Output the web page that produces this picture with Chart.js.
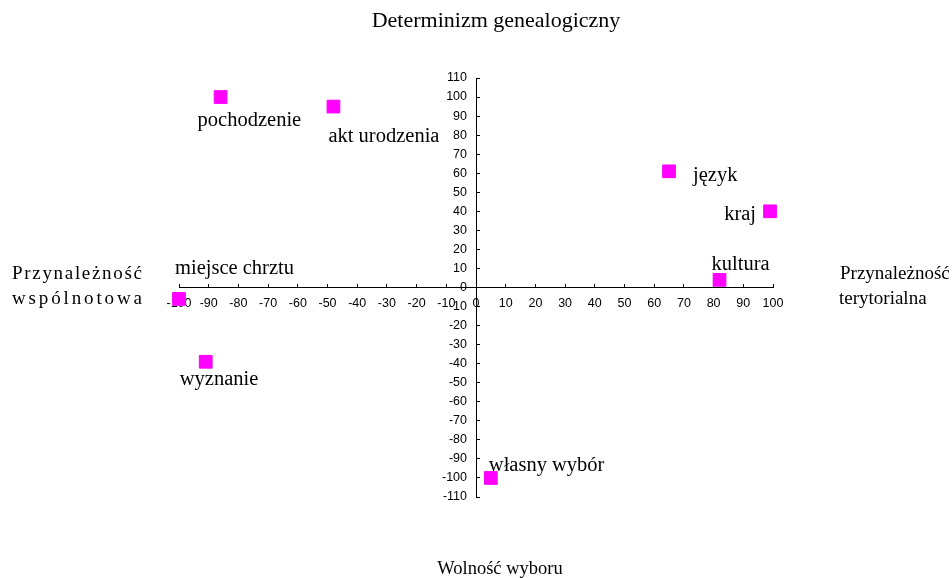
<!DOCTYPE html>
<html>
<head>
<meta charset="utf-8">
<script src="https://cdn.jsdelivr.net/npm/chart.js@4.4.1/dist/chart.umd.min.js"></script>
<style>
  html, body { margin: 0; padding: 0; background: #fff; }
  #chart { display: block; }
</style>
</head>
<body>
<canvas id="chart" width="952" height="578"></canvas>
<script>
// data
const names = ["pochodzenie", "akt urodzenia", "język", "kraj", "kultura", "miejsce chrztu", "wyznanie", "własny wybór"];
const xValues = [-86, -48, 65, 99, 82, -100, -91, 5];
const yValues = [100, 95, 61, 40, 4, -6, -39, -100];
const xTicks = [-100, -90, -80, -70, -60, -50, -40, -30, -20, -10, 0, 10, 20, 30, 40, 50, 60, 70, 80, 90, 100];
const yTicks = [-110, -100, -90, -80, -70, -60, -50, -40, -30, -20, -10, 0, 10, 20, 30, 40, 50, 60, 70, 80, 90, 100, 110];

// where each point's name sits, relative to the marker (dx, dy, align)
const nameOffsets = [
  [-23, 29, "left"],
  [-5, 35, "left"],
  [24, 10, "left"],
  [-14, 9, "right"],
  [-8, -10, "left"],
  [-4, -25, "left"],
  [-26, 23, "left"],
  [-2, -7, "left"]
];

const SERIF = "'Liberation Serif', 'Times New Roman', serif";
const SANS = "'Liberation Sans Narrow', 'Arial Narrow', 'Liberation Sans', Arial, sans-serif";
const TICK_SIZE = 12.5;

// draws text with extra space between letters so it fills a given width
function spacedText(ctx, text, x, y, width) {
  const chars = Array.from(text);
  let plain = 0;
  chars.forEach(c => (plain += ctx.measureText(c).width));
  const gap = chars.length > 1 ? (width - plain) / (chars.length - 1) : 0;
  let cx = x;
  chars.forEach(c => {
    ctx.fillText(c, cx, y);
    cx += ctx.measureText(c).width + gap;
  });
}

// the y labels of a centred axis would sit right on the line, so they are placed here
const yLabelPlugin = {
  id: "yLabels",
  afterDatasetsDraw(chart) {},
  beforeDatasetsDraw(chart) {
    const ctx = chart.ctx;
    const xs = chart.scales.x;
    const ys = chart.scales.y;
    const axisX = xs.getPixelForValue(0);
    ctx.save();
    ctx.fillStyle = "#000";
    ctx.font = TICK_SIZE + "px " + SANS;
    ctx.textAlign = "right";
    ctx.textBaseline = "middle";
    ys.ticks.forEach(t => {
      ctx.fillText(String(t.value), axisX - 9, ys.getPixelForValue(t.value));
    });
    ctx.restore();
  }
};

const textPlugin = {
  id: "texts",
  afterDraw(chart) {
    const ctx = chart.ctx;
    const xs = chart.scales.x;
    const ys = chart.scales.y;
    ctx.save();
    ctx.fillStyle = "#000";
    ctx.textBaseline = "alphabetic";

    // point names
    ctx.font = "20.5px " + SERIF;
    names.forEach((n, i) => {
      const px = xs.getPixelForValue(xValues[i]);
      const py = ys.getPixelForValue(yValues[i]);
      const [dx, dy, align] = nameOffsets[i];
      ctx.textAlign = align;
      ctx.fillText(n, px + dx, py + dy);
    });

    // title and axis captions
    ctx.textAlign = "center";
    ctx.font = "22px " + SERIF;
    ctx.fillText("Determinizm genealogiczny", 496, 27);
    ctx.font = "18.5px " + SERIF;
    ctx.fillText("Wolność wyboru", 500, 574);

    ctx.textAlign = "left";
    ctx.font = "19px " + SERIF;
    ctx.fillText("Przynależność", 840, 279);
    ctx.fillText("terytorialna", 839, 304);
    spacedText(ctx, "Przynależność", 12, 279, 130);
    spacedText(ctx, "wspólnotowa", 12, 304, 130);
    ctx.restore();
  }
};

const axisStyle = {
  grid: { display: true, drawOnChartArea: false, drawTicks: true, tickLength: -4, color: "#000", lineWidth: 1 },
  border: { display: true, color: "#000", width: 1 }
};

new Chart(document.getElementById("chart"), {
  type: "scatter",
  data: {
    datasets: [{
      label: "punkty",
      data: xValues.map((x, i) => ({ x: x, y: yValues[i] })),
      pointStyle: "rect",
      pointRadius: 9,
      pointHoverRadius: 9,
      backgroundColor: "#ff00ff",
      borderColor: "#ff00ff",
      borderWidth: 1,
      clip: false
    }]
  },
  options: {
    responsive: false,
    animation: false,
    devicePixelRatio: 1,
    layout: { padding: { left: 179, right: 179, top: 78, bottom: 81 } },
    plugins: { legend: { display: false }, tooltip: { enabled: false }, title: { display: false } },
    scales: {
      x: {
        type: "linear",
        min: -100,
        max: 100,
        position: { y: 0 },
        afterBuildTicks: s => { s.ticks = xTicks.map(v => ({ value: v })); },
        ticks: { color: "#000", padding: 13, maxRotation: 0, autoSkip: false, font: { family: SANS, size: TICK_SIZE } },
        ...axisStyle
      },
      y: {
        type: "linear",
        min: -110,
        max: 110,
        position: { x: 0 },
        afterBuildTicks: s => { s.ticks = yTicks.map(v => ({ value: v })); },
        ticks: { display: false },
        ...axisStyle
      }
    }
  },
  plugins: [yLabelPlugin, textPlugin]
});
</script>
</body>
</html>
